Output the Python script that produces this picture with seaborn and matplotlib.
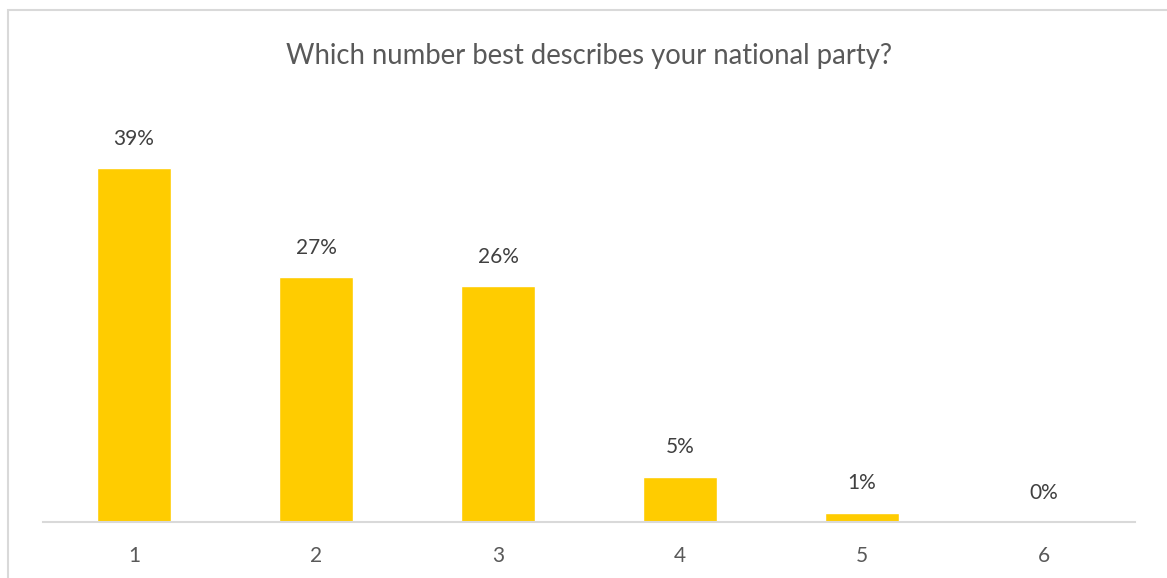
import matplotlib
matplotlib.use("Agg")
import matplotlib.pyplot as plt
from matplotlib.patches import Rectangle
import seaborn as sns
import pandas as pd

# Survey responses: share of respondents choosing each number
categories = ["1", "2", "3", "4", "5", "6"]
shares = [39, 27, 26, 5, 1, 0]
value_labels = ["39%", "27%", "26%", "5%", "1%", "0%"]
title = "Which number best describes your national party?"

sns.set_theme(style="white")
plt.rcParams["font.family"] = ["Lato", "DejaVu Sans"]

df = pd.DataFrame({"choice": categories, "share": shares})

fig = plt.figure(figsize=(11.67, 5.78), dpi=100)
W, H = 1167, 578
ax = fig.add_axes([43 / W, 1 - 522 / H, (1135 - 43) / W, (522 - 114) / H])

sns.barplot(data=df, x="choice", y="share", color="#FFCC00", width=0.41,
            saturation=1, ax=ax)

ax.set_ylim(0, 45)
ax.set_xlim(-0.5, len(categories) - 0.5)
ax.set_xlabel("")
ax.set_ylabel("")
ax.set_yticks([])
ax.tick_params(axis="x", length=0, pad=17, labelsize=15, labelcolor="#595959")

for side in ["top", "right", "left"]:
    ax.spines[side].set_visible(False)
ax.spines["bottom"].set_color("#D9D9D9")
ax.spines["bottom"].set_linewidth(1.5)

for i, (v, lab) in enumerate(zip(shares, value_labels)):
    ax.annotate(lab, xy=(i, v), xytext=(0, 14), textcoords="offset points",
                ha="center", va="bottom", fontsize=15, color="#404040")

fig.text(589 / W, 1 - 56 / H, title, ha="center", va="center",
         fontsize=19.8, color="#595959")

# Outer chart-area border
fig.patches.append(Rectangle((8 / W, -0.1), 1.2, 1.1 - 10 / H,
                             transform=fig.transFigure, fill=False,
                             edgecolor="#D9D9D9", linewidth=1.5))

fig.savefig("out.png", dpi=100)
